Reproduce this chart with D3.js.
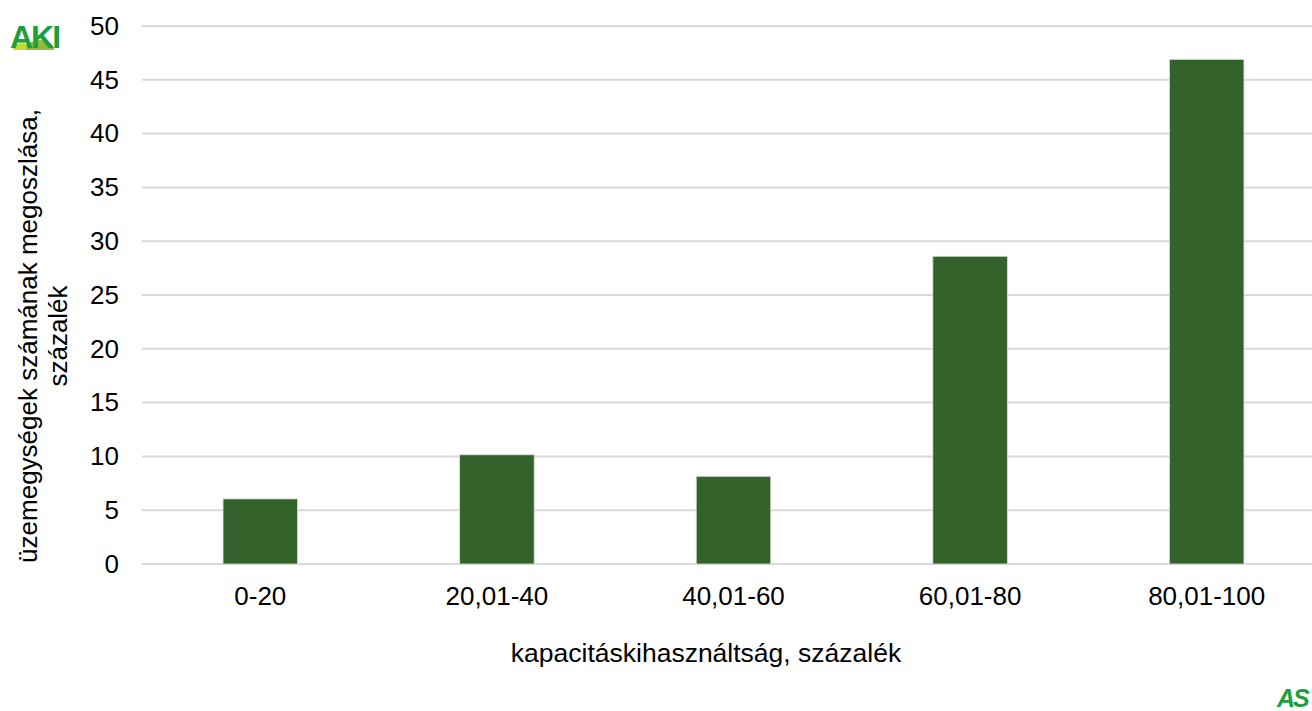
<!DOCTYPE html>
<html>
<head>
<meta charset="utf-8">
<script src="https://cdn.jsdelivr.net/npm/d3@7"></script>
<style>
  html, body { margin: 0; padding: 0; background: #fff; }
  svg { display: block; font-family: "Liberation Sans", Arial, sans-serif; }
</style>
</head>
<body>
<script>
// data
const categories = ["0-20", "20,01-40", "40,01-60", "60,01-80", "80,01-100"];
const values = [6.05, 10.15, 8.15, 28.6, 46.9];
const yTicks = [0, 5, 10, 15, 20, 25, 30, 35, 40, 45, 50];

const width = 1312;
const height = 711;
const margin = { top: 26, right: -13, bottom: 147, left: 142 };

const svg = d3.select("body").append("svg")
    .attr("width", width)
    .attr("height", height);

const x = d3.scaleBand()
    .domain(categories)
    .range([margin.left, width - margin.right])
    .paddingInner(0.685)
    .paddingOuter(0.3425);

const y = d3.scaleLinear()
    .domain([0, 50])
    .range([height - margin.bottom, margin.top]);

// gridlines
svg.append("g")
  .selectAll("line")
  .data(yTicks)
  .join("line")
    .attr("x1", margin.left)
    .attr("x2", width)
    .attr("y1", d => y(d))
    .attr("y2", d => y(d))
    .attr("stroke", "#d9d9d9")
    .attr("stroke-width", 2);

// bars
svg.append("g")
  .selectAll("rect")
  .data(values)
  .join("rect")
    .attr("x", (d, i) => x(categories[i]))
    .attr("y", d => y(d))
    .attr("width", x.bandwidth())
    .attr("height", d => y(0) - y(d))
    .attr("fill", "#34622b")
    .attr("stroke", "#d8e0d5")
    .attr("stroke-width", 0.8);

// y axis labels
const yAxis = svg.append("g")
    .attr("transform", `translate(119,0)`)
    .call(d3.axisLeft(y).tickValues(yTicks).tickSize(0).tickPadding(0));
yAxis.select(".domain").remove();
yAxis.selectAll("text")
    .attr("font-size", 26)
    .attr("font-family", "Liberation Sans, Arial, sans-serif")
    .attr("fill", "#000");

// x axis labels
const xAxis = svg.append("g")
    .attr("transform", `translate(0,${y(0) + 23})`)
    .call(d3.axisBottom(x).tickSize(0).tickPadding(0));
xAxis.select(".domain").remove();
xAxis.selectAll("text")
    .attr("font-size", 26)
    .attr("font-family", "Liberation Sans, Arial, sans-serif")
    .attr("fill", "#000");

// axis titles
svg.append("text")
    .attr("x", 706)
    .attr("y", 662)
    .attr("text-anchor", "middle")
    .attr("font-size", 26.5)
    .attr("fill", "#000")
    .text("kapacitáskihasználtság, százalék");

const yTitle = svg.append("text")
    .attr("transform", "translate(0,336) rotate(-90)")
    .attr("text-anchor", "middle")
    .attr("font-size", 26)
    .attr("fill", "#000");
yTitle.append("tspan").attr("x", 0).attr("y", 37).text("üzemegységek számának megoszlása,");
yTitle.append("tspan").attr("x", 0).attr("y", 67).text("százalék");

// AKI logo (top left)
const logo = svg.append("g").attr("transform", "translate(10,18)");
logo.append("ellipse").attr("cx", 12).attr("cy", 31).attr("rx", 9).attr("ry", 6).attr("fill", "#c6d92e");
logo.append("ellipse").attr("cx", 30).attr("cy", 31).attr("rx", 14).attr("ry", 9).attr("fill", "#8dbb3a");
logo.append("rect").attr("x", 0).attr("y", 32).attr("width", 60).attr("height", 10).attr("fill", "#fff");
logo.append("text")
    .attr("x", 0).attr("y", 30)
    .attr("font-size", 32)
    .attr("font-weight", "bold")
    .attr("letter-spacing", -2)
    .attr("fill", "#1e9e3c")
    .text("AKI");

// AS logo (bottom right)
svg.append("text")
    .attr("x", 1277)
    .attr("y", 707)
    .attr("font-size", 25)
    .attr("font-weight", "bold")
    .attr("font-style", "italic")
    .attr("letter-spacing", -2)
    .attr("fill", "#1e9e3c")
    .text("AS");
</script>
</body>
</html>
